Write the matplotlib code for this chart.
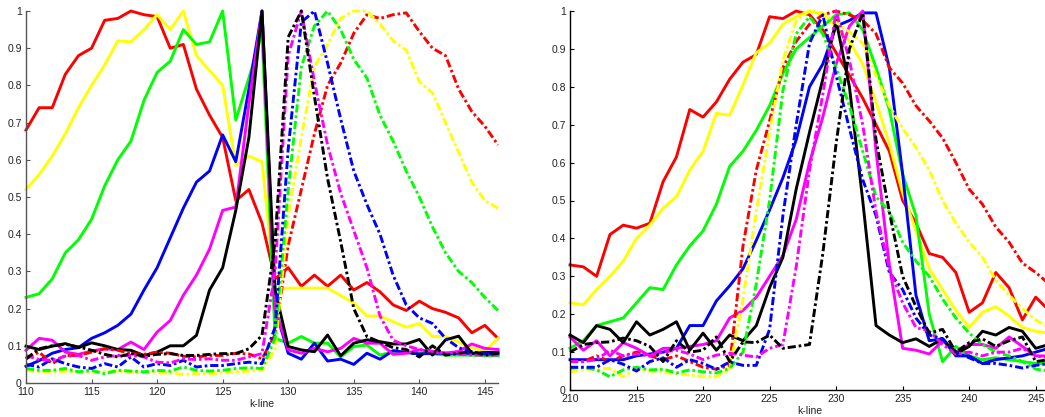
import matplotlib
matplotlib.use('Agg')
import matplotlib.pyplot as plt
import numpy as np
from matplotlib.ticker import FuncFormatter

# k-lines on each panel
k_left = np.arange(110, 147)
k_right = np.arange(210, 247)

# left panel, solid curves
L_red = [0.68, 0.74, 0.74, 0.83, 0.88, 0.90, 0.975, 0.98, 1.0, 0.99, 0.985, 0.90, 0.91, 0.79, 0.72, 0.66, 0.49, 0.52, 0.43,
         0.28, 0.31, 0.26, 0.29, 0.26, 0.29, 0.25, 0.27, 0.245, 0.21, 0.195, 0.22, 0.20, 0.19, 0.175, 0.135, 0.155, 0.12]
L_yellow = [0.52, 0.56, 0.61, 0.67, 0.74, 0.80, 0.855, 0.92, 0.917, 0.95, 0.99, 0.95, 1.0, 0.88, 0.84, 0.80, 0.585, 0.61, 0.595,
            0.25, 0.255, 0.255, 0.255, 0.255, 0.235, 0.215, 0.18, 0.18, 0.165, 0.15, 0.16, 0.125, 0.125, 0.11, 0.095, 0.085, 0.12]
L_green = [0.23, 0.24, 0.28, 0.35, 0.385, 0.44, 0.53, 0.60, 0.65, 0.76, 0.835, 0.865, 0.95, 0.91, 0.917, 1.0, 0.707, 0.82, 0.94,
           0.12, 0.107, 0.125, 0.107, 0.107, 0.07, 0.098, 0.102, 0.075, 0.084, 0.082, 0.08, 0.078, 0.075, 0.075, 0.075, 0.073, 0.073]
L_blue = [0.045, 0.06, 0.08, 0.09, 0.095, 0.12, 0.135, 0.155, 0.185, 0.25, 0.31, 0.39, 0.47, 0.54, 0.57, 0.667, 0.595, 0.79, 1.0,
          0.2, 0.08, 0.064, 0.107, 0.059, 0.064, 0.05, 0.08, 0.064, 0.087, 0.082, 0.078, 0.08, 0.08, 0.08, 0.08, 0.078, 0.078]
L_magenta = [0.088, 0.12, 0.115, 0.083, 0.077, 0.086, 0.092, 0.09, 0.11, 0.09, 0.137, 0.168, 0.236, 0.29, 0.36, 0.464, 0.473, 0.75, 1.0,
             0.2, 0.089, 0.08, 0.093, 0.084, 0.093, 0.12, 0.107, 0.107, 0.077, 0.08, 0.089, 0.085, 0.08, 0.085, 0.105, 0.093, 0.09]
L_black = [0.099, 0.09, 0.099, 0.106, 0.095, 0.108, 0.1, 0.09, 0.088, 0.074, 0.083, 0.1, 0.1, 0.128, 0.25, 0.31, 0.464, 0.66, 1.0,
           0.25, 0.098, 0.089, 0.084, 0.129, 0.073, 0.107, 0.116, 0.111, 0.105, 0.105, 0.117, 0.075, 0.116, 0.126, 0.08, 0.082, 0.082]

# left panel, dash-dot curves
L_red_dd = [0.065, 0.083, 0.052, 0.074, 0.074, 0.083, 0.092, 0.088, 0.079, 0.077, 0.083, 0.08, 0.072, 0.07, 0.074, 0.074, 0.08, 0.078, 0.065,
            0.13, 0.37, 0.52, 0.67, 0.80, 0.86, 0.94, 0.99, 0.98, 0.99, 0.995, 0.945, 0.90, 0.88, 0.79, 0.73, 0.69, 0.64]
L_yellow_dd = [0.034, 0.03, 0.03, 0.032, 0.03, 0.028, 0.03, 0.032, 0.03, 0.028, 0.027, 0.027, 0.023, 0.025, 0.025, 0.027, 0.03, 0.032, 0.034,
               0.09, 0.45, 0.66, 0.85, 0.91, 0.98, 1.0, 1.0, 0.965, 0.92, 0.895, 0.81, 0.78, 0.70, 0.62, 0.54, 0.49, 0.47]
L_green_dd = [0.039, 0.034, 0.034, 0.039, 0.03, 0.034, 0.025, 0.034, 0.032, 0.03, 0.034, 0.032, 0.043, 0.034, 0.032, 0.034, 0.039, 0.041, 0.039,
              0.12, 0.52, 0.85, 0.96, 1.0, 0.95, 0.87, 0.82, 0.72, 0.65, 0.57, 0.50, 0.42, 0.35, 0.30, 0.27, 0.23, 0.195]
L_blue_dd = [0.05, 0.043, 0.065, 0.052, 0.043, 0.039, 0.052, 0.043, 0.07, 0.043, 0.052, 0.047, 0.061, 0.043, 0.047, 0.047, 0.052, 0.056, 0.052,
             0.15, 0.63, 0.97, 1.0, 0.86, 0.71, 0.57, 0.48, 0.40, 0.29, 0.21, 0.175, 0.16, 0.12, 0.095, 0.082, 0.08, 0.08]
L_magenta_dd = [0.074, 0.063, 0.061, 0.072, 0.074, 0.061, 0.07, 0.074, 0.074, 0.07, 0.056, 0.054, 0.065, 0.063, 0.065, 0.061, 0.061, 0.07, 0.079,
                0.3, 0.88, 1.0, 0.81, 0.64, 0.51, 0.41, 0.31, 0.18, 0.115, 0.1, 0.09, 0.085, 0.08, 0.078, 0.075, 0.075, 0.075]
L_black_dd = [0.065, 0.092, 0.1, 0.104, 0.097, 0.088, 0.077, 0.07, 0.079, 0.072, 0.077, 0.079, 0.074, 0.074, 0.077, 0.079, 0.079, 0.092, 0.128,
              0.38, 0.93, 1.0, 0.77, 0.55, 0.38, 0.2, 0.125, 0.11, 0.095, 0.09, 0.07, 0.1, 0.075, 0.08, 0.085, 0.075, 0.08]

# right panel, solid curves
R_red = [0.33, 0.325, 0.30, 0.41, 0.435, 0.427, 0.44, 0.55, 0.615, 0.74, 0.72, 0.76, 0.82, 0.865, 0.885, 0.985, 0.98, 1.0, 0.99,
         0.95, 0.89, 0.83, 0.77, 0.70, 0.63, 0.50, 0.44, 0.36, 0.35, 0.31, 0.205, 0.23, 0.31, 0.27, 0.185, 0.245, 0.21]
R_yellow = [0.23, 0.225, 0.265, 0.30, 0.34, 0.40, 0.435, 0.48, 0.51, 0.58, 0.63, 0.73, 0.725, 0.805, 0.89, 0.915, 0.965, 0.985, 1.0,
            0.99, 0.96, 0.92, 0.86, 0.76, 0.65, 0.52, 0.42, 0.32, 0.265, 0.21, 0.165, 0.205, 0.22, 0.195, 0.165, 0.155, 0.15]
R_green = [0.11, 0.13, 0.17, 0.18, 0.19, 0.23, 0.27, 0.265, 0.33, 0.38, 0.42, 0.49, 0.59, 0.63, 0.685, 0.75, 0.835, 0.90, 0.93,
           0.96, 0.99, 0.995, 0.95, 0.85, 0.74, 0.57, 0.46, 0.20, 0.075, 0.115, 0.09, 0.08, 0.085, 0.08, 0.075, 0.07, 0.07]
R_blue = [0.08, 0.08, 0.08, 0.08, 0.08, 0.09, 0.095, 0.10, 0.11, 0.17, 0.17, 0.235, 0.275, 0.32, 0.395, 0.475, 0.56, 0.66, 0.80,
          0.86, 0.96, 0.975, 0.995, 0.995, 0.85, 0.57, 0.25, 0.13, 0.135, 0.09, 0.09, 0.07, 0.08, 0.085, 0.09, 0.10, 0.11]
R_magenta = [0.14, 0.105, 0.13, 0.09, 0.125, 0.11, 0.09, 0.11, 0.11, 0.115, 0.12, 0.13, 0.19, 0.21, 0.245, 0.30, 0.355, 0.45, 0.60,
             0.72, 0.86, 0.96, 1.0, 0.63, 0.33, 0.11, 0.105, 0.095, 0.13, 0.10, 0.12, 0.12, 0.11, 0.14, 0.115, 0.09, 0.09]
R_black = [0.145, 0.125, 0.17, 0.16, 0.125, 0.18, 0.145, 0.16, 0.18, 0.105, 0.15, 0.105, 0.145, 0.13, 0.17, 0.27, 0.35, 0.53, 0.68,
           0.82, 0.975, 0.80, 0.50, 0.17, 0.145, 0.125, 0.135, 0.115, 0.135, 0.095, 0.115, 0.155, 0.145, 0.165, 0.155, 0.11, 0.12]

# right panel, dash-dot curves
R_red_dd = [0.075, 0.075, 0.09, 0.075, 0.09, 0.10, 0.09, 0.08, 0.09, 0.075, 0.06, 0.055, 0.065, 0.38, 0.58, 0.71, 0.85, 0.92, 0.965,
            0.99, 1.0, 0.99, 0.975, 0.94, 0.85, 0.81, 0.75, 0.71, 0.665, 0.60, 0.53, 0.49, 0.43, 0.39, 0.335, 0.31, 0.28]
R_yellow_dd = [0.048, 0.053, 0.057, 0.057, 0.035, 0.057, 0.05, 0.048, 0.042, 0.04, 0.035, 0.035, 0.055, 0.24, 0.47, 0.68, 0.87, 0.975, 1.0,
               0.995, 0.97, 0.945, 0.915, 0.83, 0.75, 0.69, 0.64, 0.58, 0.50, 0.44, 0.39, 0.35, 0.29, 0.25, 0.215, 0.185, 0.165]
R_green_dd = [0.057, 0.06, 0.053, 0.035, 0.053, 0.06, 0.053, 0.055, 0.045, 0.053, 0.048, 0.045, 0.057, 0.10, 0.28, 0.50, 0.79, 0.94, 0.985,
              0.94, 0.85, 0.75, 0.63, 0.51, 0.47, 0.39, 0.34, 0.30, 0.24, 0.19, 0.15, 0.12, 0.10, 0.09, 0.075, 0.055, 0.05]
R_blue_dd = [0.06, 0.06, 0.06, 0.08, 0.068, 0.05, 0.075, 0.085, 0.06, 0.08, 0.07, 0.055, 0.074, 0.065, 0.065, 0.16, 0.46, 0.70, 0.915,
             0.99, 0.83, 0.69, 0.555, 0.46, 0.31, 0.265, 0.19, 0.145, 0.135, 0.10, 0.085, 0.07, 0.07, 0.065, 0.058, 0.065, 0.07]
R_magenta_dd = [0.075, 0.075, 0.08, 0.105, 0.09, 0.095, 0.09, 0.10, 0.105, 0.095, 0.08, 0.092, 0.097, 0.092, 0.087, 0.11, 0.12, 0.325, 0.58,
                0.78, 1.0, 0.87, 0.70, 0.47, 0.32, 0.23, 0.165, 0.155, 0.12, 0.095, 0.10, 0.09, 0.10, 0.10, 0.11, 0.09, 0.085]
R_black_dd = [0.10, 0.12, 0.125, 0.127, 0.137, 0.13, 0.115, 0.075, 0.13, 0.10, 0.105, 0.14, 0.075, 0.127, 0.125, 0.145, 0.11, 0.115, 0.12,
              0.36, 0.65, 0.90, 0.995, 0.66, 0.47, 0.30, 0.22, 0.15, 0.16, 0.10, 0.125, 0.135, 0.115, 0.13, 0.14, 0.075, 0.08]

colors = ['#ff0000', '#ffff00', '#00ff00', '#0000ff', '#ff00ff', '#000000']

plt.rcParams['font.family'] = ['Liberation Sans', 'DejaVu Sans']

fig = plt.figure(figsize=(10.45, 4.17), dpi=100)
ax1 = fig.add_axes([26 / 1045, 34 / 417, 472 / 1045, 372 / 417])
ax2 = fig.add_axes([570 / 1045, 27 / 417, 479 / 1045, 379 / 417])


def draw(ax, k, solid, dashed, xlim, xticks, axcol):
    for c, v in zip(colors, solid):
        ax.plot(k, v, '-', color=c, lw=2.1, clip_on=False)
    for c, v in zip(colors, dashed):
        ax.plot(k, v, color=c, lw=2.1, dashes=(2.8, 1.0, 0.9, 1.0), clip_on=False)
    ax.set_xlim(xlim)
    ax.set_ylim(0, 1)
    ax.set_xticks(xticks)
    ax.set_yticks(np.arange(0, 1.01, 0.1))
    ax.yaxis.set_major_formatter(FuncFormatter(lambda y, p: '%g' % round(y, 1)))
    for s in ['top', 'right']:
        ax.spines[s].set_visible(False)
    for s in ['left', 'bottom']:
        ax.spines[s].set_color(axcol)
        ax.spines[s].set_linewidth(1.0)
    ax.tick_params(direction='in', length=3, width=0.8, labelsize=7.5, pad=3, colors=axcol, labelcolor='#222222')
    ax.set_xlabel('k-line', fontsize=7.5, labelpad=1, color='#222222')


draw(ax1, k_left,
     [L_red, L_yellow, L_green, L_blue, L_magenta, L_black],
     [L_red_dd, L_yellow_dd, L_green_dd, L_blue_dd, L_magenta_dd, L_black_dd],
     (110, 146), np.arange(110, 146, 5), '#555555')
draw(ax2, k_right,
     [R_red, R_yellow, R_green, R_blue, R_magenta, R_black],
     [R_red_dd, R_yellow_dd, R_green_dd, R_blue_dd, R_magenta_dd, R_black_dd],
     (210, 246), np.arange(210, 246, 5), '#000000')

fig.savefig('out.png', dpi=100)
